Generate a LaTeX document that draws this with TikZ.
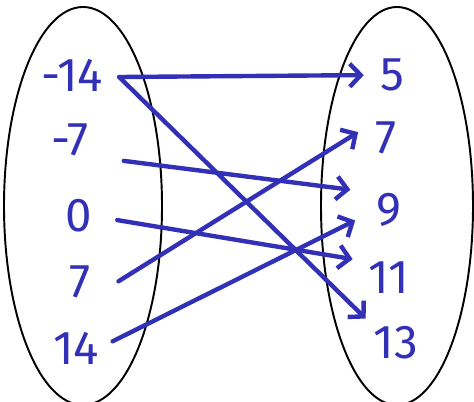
\documentclass[tikz,border=0pt]{standalone}
\usepackage{fontspec}
\setmainfont{Fira Sans}
\usetikzlibrary{arrows.meta}
\definecolor{ink}{RGB}{50,48,182}
\begin{document}
\begin{tikzpicture}[x=0.2mm,y=-0.2mm,
  val/.style={text=ink,inner sep=0pt,font=\fontsize{27}{27}\selectfont},
  map/.style={draw=ink,line width=2.5pt,line cap=round,
    -{Straight Barb[length=2.2mm,width=4.6mm]}}]

	% Frame
	\useasboundingbox (0,0) rectangle (474,402);

	% Sets
	\draw[line width=1.1pt] (83,206) ellipse [x radius=79,y radius=199];
	\draw[line width=1.1pt] (397,206) ellipse [x radius=76,y radius=199];

	% Domain
	\node[val] (lA) at (72,75)  {-14};
	\node[val] (lB) at (70,140) {-7};
	\node[val] (lC) at (79,216) {0};
	\node[val] (lD) at (80,282) {7};
	\node[val] (lE) at (76,348) {14};

	% Range
	\node[val] (rA) at (392,75)  {5};
	\node[val] (rB) at (386,138) {7};
	\node[val] (rC) at (389,210) {9};
	\node[val] (rD) at (389,278) {11};
	\node[val] (rE) at (396,343) {13};

	% fork point right of -14
	\path (lA.east) ++(16,2) coordinate (lAx);

	% Arrows
	\draw[map,shorten >=3.2mm] (lAx) -- (rA.west);
	\draw[map,shorten >=2.2mm] (lAx) -- (rE.north west);
	\draw[map,shorten <=7mm,shorten >=5.2mm] (lB.south east) -- (rC.north west);
	\draw[map,shorten <=5mm,shorten >=3.2mm] (lC.east) -- (rD.north west);
	\draw[map,shorten <=6.5mm,shorten >=4mm] (lD.south east) -- (rB.north west);
	\draw[map,shorten <=3mm,shorten >=4.7mm] (lE.east) -- (rC.west);

\end{tikzpicture}
\end{document}
